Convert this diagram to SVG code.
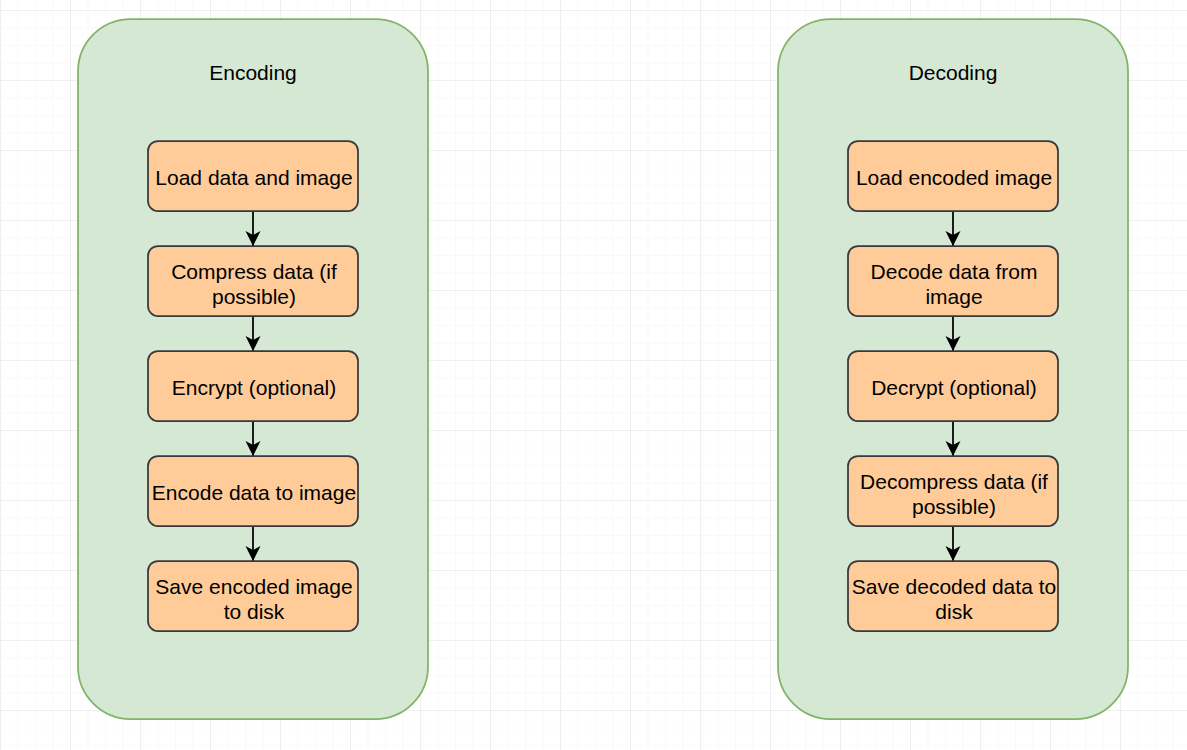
<svg xmlns="http://www.w3.org/2000/svg" width="1187" height="750" viewBox="0 0 1187 750">
<defs>
<pattern id="minor" width="17.5" height="17.5" patternUnits="userSpaceOnUse" x="0" y="10">
<path d="M0 0H17.5M0 0V17.5" fill="none" stroke="#f3f3f3" stroke-width="1"/>
</pattern>
<pattern id="major" width="70" height="70" patternUnits="userSpaceOnUse" x="0" y="10">
<path d="M0 0H70M0 0V70" fill="none" stroke="#e6e6e6" stroke-width="1"/>
</pattern>
<marker id="arr" viewBox="0 0 16 16" refX="15" refY="8" markerWidth="16" markerHeight="16" markerUnits="userSpaceOnUse" orient="auto">
<path d="M0 0.5L15 8L0 15.5L4 8Z" fill="#000"/>
</marker>
</defs>
<style>
.cont{fill:#d5e8d4;stroke:#82b366;stroke-width:1.75}
.box{fill:#ffcc99;stroke:#36393d;stroke-width:1.75}
text{font-family:"Liberation Sans",Arial,sans-serif;font-size:21px;fill:#000;text-anchor:middle}
.edge{stroke:#000;stroke-width:1.75;fill:none;marker-end:url(#arr)}
</style>
<rect width="1187" height="750" fill="#fff"/>
<rect width="1187" height="750" fill="url(#minor)"/>
<rect width="1187" height="750" fill="url(#major)"/>
<g id="encoding">
<rect class="cont" x="78" y="19" width="350" height="700" rx="52.5"/>
<text x="253" y="80">Encoding</text>
</g>
<g id="decoding">
<rect class="cont" x="778" y="19" width="350" height="700" rx="52.5"/>
<text x="953" y="80">Decoding</text>
</g>
<g id="connectors">
<path class="edge" d="M253 211V246"/>
<path class="edge" d="M253 316V351"/>
<path class="edge" d="M253 421V456"/>
<path class="edge" d="M253 526V561"/>
<path class="edge" d="M953 211V246"/>
<path class="edge" d="M953 316V351"/>
<path class="edge" d="M953 421V456"/>
<path class="edge" d="M953 526V561"/>
</g>
<g id="e1"><rect class="box" x="148" y="141" width="210" height="70" rx="10"/><text x="254" y="185">Load data and image</text></g>
<g id="e2"><rect class="box" x="148" y="246" width="210" height="70" rx="10"/><text x="254" y="279">Compress data (if</text><text x="254" y="304">possible)</text></g>
<g id="e3"><rect class="box" x="148" y="351" width="210" height="70" rx="10"/><text x="254" y="395">Encrypt (optional)</text></g>
<g id="e4"><rect class="box" x="148" y="456" width="210" height="70" rx="10"/><text x="254" y="500">Encode data to image</text></g>
<g id="e5"><rect class="box" x="148" y="561" width="210" height="70" rx="10"/><text x="254" y="594">Save encoded image</text><text x="254" y="619">to disk</text></g>
<g id="d1"><rect class="box" x="848" y="141" width="210" height="70" rx="10"/><text x="954" y="185">Load encoded image</text></g>
<g id="d2"><rect class="box" x="848" y="246" width="210" height="70" rx="10"/><text x="954" y="279">Decode data from</text><text x="954" y="304">image</text></g>
<g id="d3"><rect class="box" x="848" y="351" width="210" height="70" rx="10"/><text x="954" y="395">Decrypt (optional)</text></g>
<g id="d4"><rect class="box" x="848" y="456" width="210" height="70" rx="10"/><text x="954" y="489">Decompress data (if</text><text x="954" y="514">possible)</text></g>
<g id="d5"><rect class="box" x="848" y="561" width="210" height="70" rx="10"/><text x="954" y="594">Save decoded data to</text><text x="954" y="619">disk</text></g>
</svg>
